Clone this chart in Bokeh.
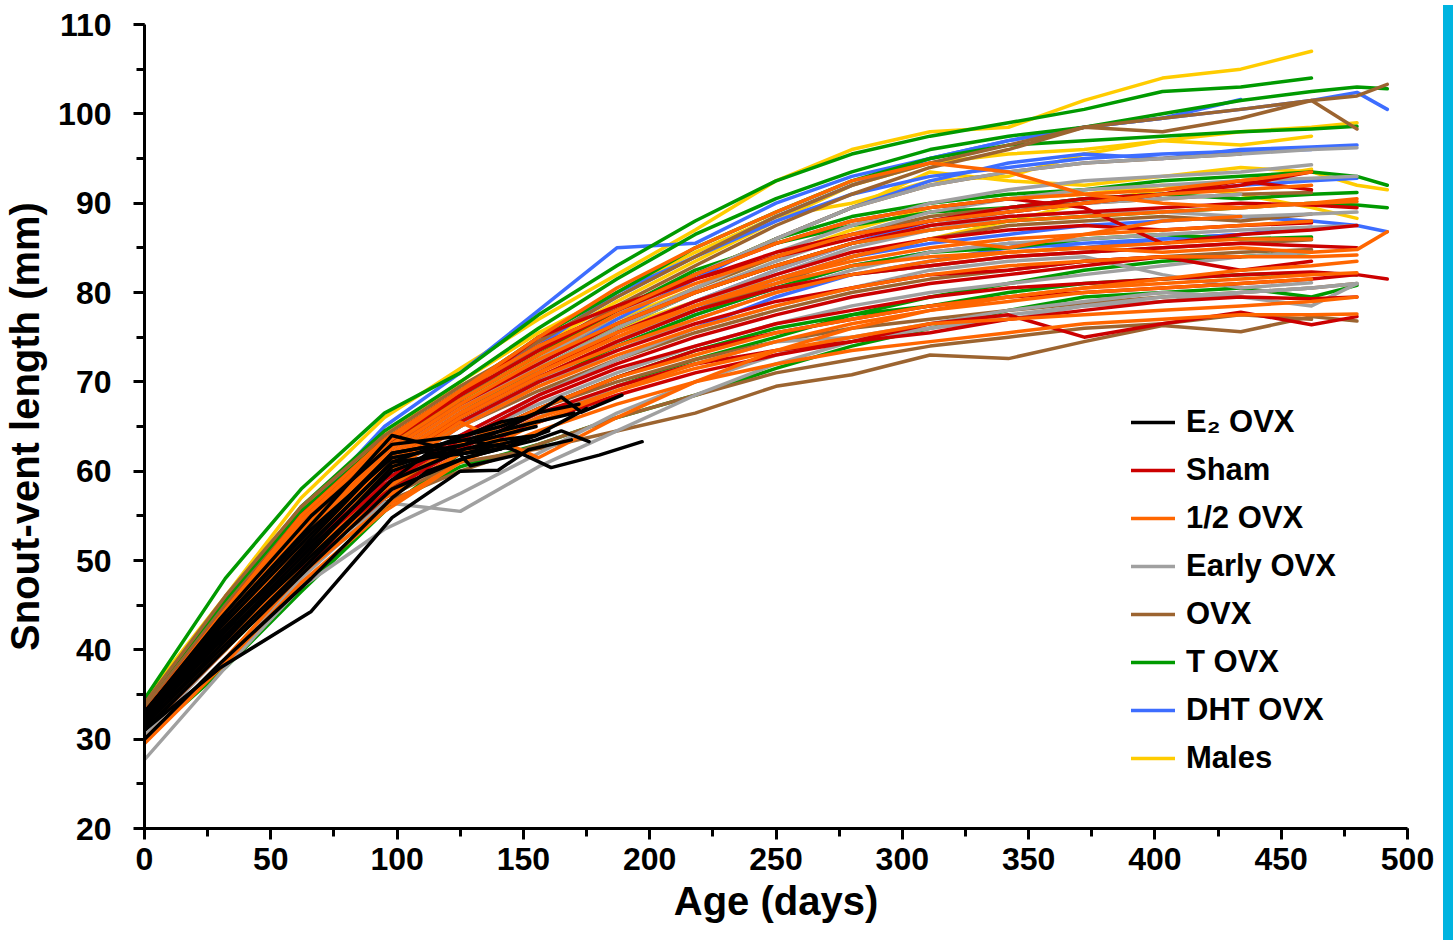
from bokeh.plotting import figure
from bokeh.models import Range1d, FixedTicker, Legend, LegendItem, Div
from bokeh.layouts import row
from bokeh.embed import file_html
from bokeh.resources import INLINE

# ---------------- data ----------------
X_TICKS = [0, 50, 100, 150, 200, 250, 300, 350, 400, 450, 500]
X_MINOR = [0, 25, 50, 75, 100, 125, 150, 175, 200, 225, 250, 275, 300, 325, 350, 375, 400, 425, 450, 475, 500]
Y_TICKS = [20, 30, 40, 50, 60, 70, 80, 90, 100, 110]
Y_MINOR = [20, 25, 30, 35, 40, 45, 50, 55, 60, 65, 70, 75, 80, 85, 90, 95, 100, 105, 110]

# measurement ages (days) shared by the long-term groups
DAYS = [0, 32, 62, 95, 125, 156, 187, 218, 250, 280, 311, 342, 372, 403, 434, 462, 480, 492]

MALES = [
    [34.5, 46, 57, 66, 71.5, 77, 82, 87, 92.5, 96, 98, 98.5, 101.5, 104, 105, 107],
    [33, 44, 55, 64, 70, 75.5, 80, 84.5, 88.5, 90, 92.5, 93, 95.5, 97, 98, 98.5, 99],
    [32.5, 43, 53, 62, 68, 73, 78, 82, 86, 89.5, 93.5, 92.5, 92, 93, 94, 93.5, 92, 91.5],
    [32, 42, 52, 61, 67.5, 72.5, 77, 80.5, 84, 87, 89.5, 90.5, 91, 92, 91, 89.5, 88.3],
    [33.5, 45, 55.5, 64, 69.5, 74, 79, 83.5, 88, 92, 94.5, 95.5, 96, 97, 96.5, 97.5],
    [33, 44.5, 54, 62.5, 68, 72.5, 76, 79, 81.5, 84, 86, 88, 90, 91.5, 92.5, 93.8],
]

DHT_OVX = [
    [33, 44, 55, 65, 71, 78, 85, 85.5, 90, 93, 95, 97, 98.5, 99.5, 100.5, 101.5, 102.4, 100.5],
    [32.5, 43, 54, 62, 68, 74, 80, 84, 88.5, 92, 95, 97, 98.5, 99.5, 101.6],
    [32, 42.5, 53, 61.5, 67, 72, 77, 81.5, 86, 89.5, 92.5, 94.5, 95.5, 95, 96, 96.3, 96.5],
    [31.5, 41, 51, 59.5, 65, 70, 74.5, 78, 81.5, 84, 85.5, 86.5, 87.5, 88, 88.5, 88, 87.5, 86.8],
    [31, 41, 50.5, 59, 64, 68.5, 72.5, 76, 79.5, 82, 83.5, 85, 85.5, 86, 86.5, 87.3],
    [32, 42, 52.5, 61, 66.5, 71, 75.5, 79, 82.5, 85.5, 88, 89.5, 90.5, 91, 92, 92.5, 92.8],
    [33, 43.5, 54, 63, 69, 74.5, 79.5, 84, 88, 91, 93, 94, 95, 95.5, 95.8, 96],
    [31.5, 41.5, 51.5, 60, 65.5, 70, 74, 77.5, 80.5, 83, 84.5, 85.5, 85, 86, 86.5],
]

T_OVX = [
    [34.5, 48, 58, 66.5, 71, 77.5, 83, 88, 92.5, 95.5, 97.5, 99, 100.5, 102.5, 103, 104],
    [33.5, 45.5, 56, 64.5, 70, 76, 81.5, 86.5, 90.5, 93.5, 96, 97.5, 98.5, 100, 101.5, 102.5, 103, 102.8],
    [33, 44, 54, 62.5, 68, 73, 78, 82, 86, 88.5, 90, 91, 91.5, 92.5, 93, 93.5, 93, 92],
    [32.5, 43, 53, 61, 66.5, 71.5, 76, 80, 83, 85.5, 87, 88, 88.5, 89, 89.5, 90, 89.8, 89.5],
    [31.5, 40, 48.5, 56, 60.5, 63, 66, 68.5, 71.5, 74, 76, 78, 79.5, 80, 80.5, 79.5, 80.8],
    [33, 45, 55.5, 63.5, 69, 75, 80, 85, 89, 92.5, 95, 96.5, 97, 97.5, 98, 98.3, 98.6],
    [30, 38, 46.5, 55.5, 62, 66, 69.5, 72.5, 75, 77.5, 79.5, 81, 82.5, 83.5, 84, 84.5],
    [32, 42, 52, 60, 65.5, 70, 74, 77.5, 80.5, 83, 84.5, 85, 86, 86.5, 86, 86.2],
    [32.5, 43.5, 54, 62.5, 68.5, 73.5, 78, 82.5, 85.5, 87.5, 89, 89.5, 90.5, 91, 90.5, 91, 91.2],
    [31, 40, 49.5, 57.5, 63, 67, 70.5, 73.5, 76, 77.5, 78.5, 80, 81, 81.5, 82, 82.2, 82],
]

OVX = [
    [32, 41, 50, 57, 61, 62.5, 64.5, 66.5, 69.5, 70.8, 73, 72.6, 74.5, 76.3, 75.6, 77.3, 76.8],
    [34, 46, 56, 64, 69.5, 74.5, 79.5, 84, 88.5, 92, 94.5, 96.5, 98.5, 99.5, 100.5, 101.5, 102, 103.3],
    [33.5, 45, 55, 63, 68.5, 73.5, 78.5, 83, 87.5, 91, 94, 96, 98.5, 98, 99.5, 101.5, 98.3],
    [32.5, 43, 53, 61, 66, 70.5, 74.5, 78, 80.5, 82, 83, 84, 84.5, 85, 85.5, 85.9],
    [32, 42, 52, 60, 65, 69, 72.5, 75.5, 78, 80, 81.5, 82.5, 83.5, 84, 84.5, 84.8],
    [31.5, 41, 50.5, 58, 63, 67, 70, 72.5, 74.5, 76, 77, 78, 78.8, 79.5, 80, 80.5, 81],
    [33, 44.5, 54.5, 62.5, 67.5, 72, 76.5, 80.5, 84, 86.5, 88.5, 89.5, 90, 90.5, 91, 91.2],
    [33, 44, 54, 62, 67.5, 72.5, 77.5, 82, 86, 89.5, 92, 93.5, 94.5, 95, 95.5],
    [32.5, 43, 53, 61, 66, 70.5, 74.5, 78, 81, 84, 86, 87.5, 88, 88.5, 88, 88.8],
    [31, 40.5, 49.5, 56.5, 60, 63, 66, 68.5, 71, 72.5, 74, 75, 76, 76.5, 77.5, 77],
]

EARLY_OVX = [
    [27.7, 38, 47, 53.5, 57.5, 62, 66.5, 70, 73, 75, 76.5, 78, 79, 80, 79.5, 78.5, 81],
    [30, 39, 48, 56.5, 55.5, 60.5, 64.5, 68.5, 72, 74.5, 76, 77.5, 78.5, 79, 80, 80.5, 81],
    [32.5, 43.5, 53.5, 62, 67.5, 72.5, 77.5, 82, 86, 89.5, 92, 93.5, 94.5, 95, 95.5, 96, 96.2],
    [32, 43, 53, 61.5, 67, 72, 76.5, 80.5, 84.5, 87.5, 90, 91.5, 92.5, 93, 93.5, 94.3],
    [31.5, 42, 52, 60, 65.5, 70, 74.5, 78.5, 82, 85, 87, 88.5, 89, 89, 88.5, 88.8, 89],
    [31, 41, 50.5, 58.5, 64, 68.5, 72.5, 76, 78.5, 80.5, 82.5, 83.5, 84, 82, 80.5, 81.1],
    [31.5, 41.5, 51.5, 59.5, 65, 69.5, 73.5, 77, 80, 82.5, 84.5, 85.5, 86, 86.5, 87, 87.3, 87.5],
    [32, 42.5, 52.5, 61, 66.5, 71, 75.5, 79, 82.5, 85.5, 87.5, 89, 90, 90.5, 91],
    [31, 40.5, 50, 58, 63.5, 67.5, 71, 74, 76.5, 78.5, 80, 81, 82, 83, 84, 84.5],
    [32, 43, 53, 61.5, 67, 71.5, 76, 80, 83.5, 86.5, 89, 90.5, 91.5, 92, 92.5, 92.8, 93],
    [30.5, 40, 49, 57, 62, 66, 69.5, 72, 74.5, 75, 76, 77, 78.5, 79.5, 80, 80.5],
]

SHAM = [
    [33, 44, 55, 63, 68.5, 75, 78.5, 81.5, 84, 86, 88, 89.5, 90.5, 91, 92, 93.5],
    [32.5, 43.5, 53.5, 62, 67.5, 72, 76.5, 80, 83, 85.5, 87.5, 88.5, 89, 89.5, 90, 89.8, 89.5],
    [31.5, 41, 50, 58, 63, 67, 70.5, 73.5, 75.5, 77, 78.5, 79.5, 80, 80.5, 81, 81.5, 82, 81.5],
    [31, 40.5, 49.5, 57.5, 62.5, 66.5, 69.5, 72, 73.5, 74.5, 76.5, 77.5, 75, 76.5, 77.8, 76.4, 77.3],
    [31.5, 41.5, 51, 59, 64, 68.5, 72, 75, 77.5, 79.5, 81, 82, 83, 84, 82.5, 83.5],
    [33, 44, 54.5, 63, 68.5, 73.5, 78, 82, 85.5, 88, 89.5, 90.5, 89.5, 85.5, 86.5, 87, 87.5],
    [32, 42, 52, 60.5, 66, 70.5, 74.5, 78, 80.5, 82, 83, 84, 84.5, 85, 85.5, 85.2, 85],
    [32.5, 43, 53, 61, 66.5, 71, 75.5, 79, 82, 84.5, 86, 87, 87.5, 87, 87.5, 87.8],
    [33, 44.5, 55, 63.5, 69, 74, 78, 81.5, 84.5, 86.5, 88, 89, 90, 91, 92.5, 91.5],
    [31, 40, 49, 57, 62, 65.5, 68.5, 71, 73, 74.5, 75.5, 77, 78, 79, 79.5, 79.3, 79.5],
    [32, 42.5, 52.5, 60.5, 65.5, 70, 73.5, 76.5, 79, 80.5, 82, 82.5, 83.5, 84, 84],
    [31.5, 41, 50.5, 58.5, 63.5, 68, 71.5, 74, 76.5, 78, 79.5, 80.5, 81, 81.5, 82, 82.3, 82],
]

HALF_OVX = [
    [33, 44, 54.5, 63, 69, 75, 80.5, 85, 89, 92.5, 94.5, 93.5, 91, 90, 89.5, 90, 90.5],
    [32.5, 43, 53, 61.5, 67, 71.5, 75.5, 78.5, 81, 83, 84, 84.5, 85, 84.5, 85, 84.5, 84.8, 86.8],
    [31, 40, 49.5, 57, 62, 66, 69, 71.5, 73.5, 75, 76.5, 77, 77.5, 78, 78.5, 79, 79.5],
    [30, 39, 48.5, 56, 61, 64.5, 67.5, 70, 72, 73.5, 74.5, 75.5, 76.5, 77, 77.5, 77.5, 77.6],
    [32.5, 43.5, 54, 62.5, 68, 73, 77.5, 81, 84, 86.5, 88, 89, 90, 91, 91.5, 92],
    [33, 44.5, 55, 63.5, 69, 74, 78, 82, 85.5, 88, 89.5, 90.5, 91, 91.5, 92.5, 93.5],
    [31.5, 41.5, 51.5, 59.5, 65, 69.5, 73, 76, 78.5, 80.5, 82, 83, 83.5, 84, 84, 84, 84.2],
    [32, 42.5, 52.5, 61, 66.5, 71, 75, 78.5, 81.5, 84, 86, 85, 86.5, 88, 88.5],
    [31, 40.5, 50, 58, 63, 67, 70.5, 73, 75.5, 77, 78.5, 79.5, 80.5, 81, 81.5, 82, 82.2],
    [32, 42, 52, 60.5, 66, 70.5, 74, 77, 80, 82, 83.5, 84.5, 85, 85.5, 86, 86],
    [31, 41, 51.5, 60, 65.5, 61.5, 66, 70, 73.5, 76, 78, 79.5, 80.5, 81.5, 82.5, 83, 83.5],
    [32.5, 43, 53.5, 62, 67.5, 72.5, 76.5, 80, 83, 85.5, 87, 88, 88.5, 89, 89.5, 90, 90.2],
    [32, 43, 53, 61, 66.5, 71, 75, 78.5, 81.5, 83.5, 85, 86, 86.5, 87, 87.5, 88],
    [29.5, 38.5, 47.5, 55.5, 61, 65.5, 69, 72, 74.5, 76.5, 78, 79, 80, 80.5, 81, 81.5],
]

# E2-treated animals: each has its own (short) set of ages
E2_DAYS = [
    [0, 30, 66, 98, 125, 140, 152, 169],
    [0, 30, 66, 98, 112, 127, 141, 152, 161, 180, 197],
    [0, 30, 66, 98, 127, 141, 155, 165, 173, 189],
    [0, 30, 66, 98, 127, 141, 155, 165, 176],
    [0, 30, 66, 98, 112, 124, 129, 150],
    [0, 30, 66, 98, 127, 141, 155, 170],
    [0, 30, 66, 98, 127, 141, 155],
    [0, 30, 66, 98, 127, 141, 150],
    [0, 30, 66, 98, 112, 127, 141, 155],
    [0, 30, 66, 98, 127, 141, 160],
    [0, 30, 66, 98, 127, 145],
    [0, 30, 66, 98, 127, 141, 155, 175],
    [0, 30, 66, 98, 112, 127, 141],
    [0, 30, 66, 98, 127, 141, 155, 172],
]
E2_OVX = [
    [31, 38, 44.3, 54.8, 60, 60.1, 62.4, 63.5],
    [32, 41, 50.5, 59, 62, 62, 63, 61.6, 60.4, 61.8, 63.3],
    [33, 43, 53.5, 61.5, 63, 64.5, 66.5, 68.3, 66.6, 68.5],
    [32.5, 42, 52, 61, 62, 62.5, 63.5, 64.5, 63.3],
    [33, 43, 54, 64, 63, 62.2, 60.6, 62],
    [32, 41.5, 52.5, 62, 63.5, 64.5, 65.5, 66.5],
    [31.5, 40.5, 51, 60.5, 63, 64, 65],
    [33, 43.5, 55, 63, 64, 65.5, 66],
    [32, 41, 51.5, 60, 61.5, 62.5, 63.5, 64],
    [31, 39.5, 49.5, 58, 61.5, 62.5, 64.5],
    [32.5, 42.5, 53, 62, 63.5, 62.5],
    [31.5, 40, 50, 59, 62.5, 63, 64, 67],
    [30, 38.5, 48, 57, 60, 61.5, 62.5],
    [32, 41.5, 52, 61, 64, 65, 66.5, 67.5],
]

LABELS = ["E\u2082 OVX", "Sham", "1/2 OVX", "Early OVX", "OVX", "T OVX", "DHT OVX", "Males"]
COLORS = ["#000000", "#CC0000", "#FF6600", "#A0A0A0", "#9C6430", "#009A00", "#3D6DFF", "#FFCC00"]

# ---------------- figure ----------------
FONT = "Liberation Sans"
p = figure(width=1438, height=935, x_range=Range1d(0, 500), y_range=Range1d(20, 110),
           output_backend="svg", toolbar_location=None,
           min_border_left=138, min_border_right=31, min_border_top=24, min_border_bottom=107)
p.xgrid.visible = False
p.ygrid.visible = False
p.outline_line_color = None
p.background_fill_color = "white"
p.border_fill_color = "white"

p.xaxis.ticker = FixedTicker(ticks=X_TICKS, minor_ticks=X_MINOR)
p.yaxis.ticker = FixedTicker(ticks=Y_TICKS, minor_ticks=Y_MINOR)
p.xaxis.axis_label = "Age (days)"
p.yaxis.axis_label = "Snout-vent length (mm)"
for ax in (p.xaxis[0], p.yaxis[0]):
    ax.axis_line_width = 3
    ax.axis_line_color = "black"
    ax.major_tick_line_width = 3
    ax.minor_tick_line_width = 3
    ax.major_tick_line_color = "black"
    ax.minor_tick_line_color = "black"
    ax.major_tick_in = 0
    ax.major_tick_out = 11
    ax.minor_tick_in = 0
    ax.minor_tick_out = 8
    ax.major_label_text_font = FONT
    ax.major_label_text_font_style = "bold"
    ax.major_label_text_font_size = "32px"
    ax.major_label_text_color = "black"
    ax.axis_label_text_font = FONT
    ax.axis_label_text_font_style = "bold"
    ax.axis_label_text_font_size = "40px"
    ax.axis_label_text_color = "black"
p.xaxis.major_label_standoff = 8
p.xaxis.axis_label_standoff = 6
p.yaxis.major_label_standoff = 22
p.yaxis.axis_label_standoff = 8


def draw(days_list, values, color):
    xs = [d[:len(v)] for d, v in zip(days_list, values)]
    return p.multi_line(xs=xs, ys=values, line_color=color, line_width=3.5,
                        line_join="round", line_cap="round")


renderers = {}
# back to front
renderers["Males"] = draw([DAYS] * len(MALES), MALES, COLORS[7])
renderers["DHT OVX"] = draw([DAYS] * len(DHT_OVX), DHT_OVX, COLORS[6])
renderers["T OVX"] = draw([DAYS] * len(T_OVX), T_OVX, COLORS[5])
renderers["OVX"] = draw([DAYS] * len(OVX), OVX, COLORS[4])
renderers["Early OVX"] = draw([DAYS] * len(EARLY_OVX), EARLY_OVX, COLORS[3])
renderers["Sham"] = draw([DAYS] * len(SHAM), SHAM, COLORS[1])
renderers["1/2 OVX"] = draw([DAYS] * len(HALF_OVX), HALF_OVX, COLORS[2])
renderers["E\u2082 OVX"] = draw(E2_DAYS, E2_OVX, COLORS[0])

items = [LegendItem(label=lab, renderers=[renderers[lab]]) for lab in LABELS]
legend = Legend(items=items, location=(987, 50), orientation="vertical",
                border_line_color=None, background_fill_alpha=0,
                label_text_font=FONT, label_text_font_style="bold",
                label_text_font_size="31px", label_text_color="black",
                glyph_width=44, glyph_height=40, label_height=40,
                label_standoff=11, spacing=8, padding=4, margin=0)
p.add_layout(legend)

bar = Div(text="", width=10, height=935, styles={"background-color": "#00B4E0"})

layout = row(p, bar)
open("out.html", "w").write(file_html(layout, INLINE))
